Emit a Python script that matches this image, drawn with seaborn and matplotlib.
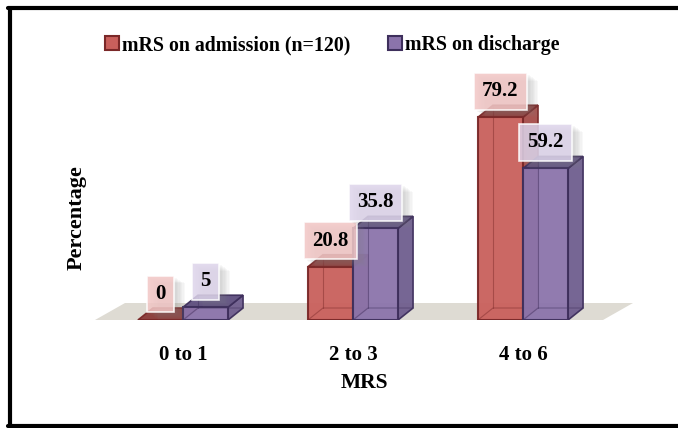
import matplotlib
matplotlib.use("Agg")
import matplotlib.pyplot as plt
import matplotlib.patheffects as pe
from matplotlib.patches import Polygon, Rectangle
from matplotlib.lines import Line2D
import seaborn as sns
import pandas as pd

# Data
categories = ["0 to 1", "2 to 3", "4 to 6"]
series_names = ["mRS on admission (n=120)", "mRS on discharge"]
admission = [0, 20.8, 79.2]
discharge = [5, 35.8, 59.2]

df = pd.DataFrame({
    "MRS": categories * 2,
    "Percentage": admission + discharge,
    "Group": [series_names[0]] * 3 + [series_names[1]] * 3,
})

# face colours: front, side, top, edge, label box
styles = {
    series_names[0]: dict(front="#C9605C", side="#A54C49", top="#8A3A38",
                          edge="#7A2828", box="#F1C6C5"),
    series_names[1]: dict(front="#8B74AB", side="#6F5E8E", top="#5E4E7E",
                          edge="#3E2F5C", box="#DDD4EA"),
}

sns.set_theme(style="white")
plt.rcParams["font.family"] = ["Liberation Serif", "DejaVu Serif"]
plt.rcParams["font.weight"] = "bold"
plt.rcParams["text.color"] = "black"
plt.rcParams["axes.labelcolor"] = "black"
plt.rcParams["xtick.color"] = "black"

W, H = 678, 428
fig = plt.figure(figsize=(W / 100, H / 100), dpi=100)
fig.patch.set_facecolor("white")

# axes box in pixels
left_px, right_px = 95, 633
base_px, top_px = 320, 90
ax = fig.add_axes([left_px / W, (H - base_px) / H,
                   (right_px - left_px) / W, (base_px - top_px) / H])

sns.barplot(data=df, x="MRS", y="Percentage", hue="Group",
            palette=[styles[s]["front"] for s in series_names],
            width=0.53, ax=ax, legend=False, saturation=1)

ax.set_xlim(-0.5176, 2.647)
ax.set_ylim(0, (base_px - top_px) / 2.56)

# depth offsets in data units
xpx = (right_px - left_px) / (ax.get_xlim()[1] - ax.get_xlim()[0])
ypx = (base_px - top_px) / (ax.get_ylim()[1] - ax.get_ylim()[0])
dx, dy = 15 / xpx, 12 / ypx

# floor
fdx, fdy = 30 / xpx, 17 / ypx
x0, x1 = ax.get_xlim()
floor = Polygon([(x0, 0), (x1 - fdx, 0), (x1, fdy), (x0 + fdx, fdy)],
                closed=True, fc="#DEDBD3", ec="none", zorder=0.5, clip_on=False)
ax.add_patch(floor)

soft_shadow = [pe.SimplePatchShadow(offset=(o, -o * 0.7), shadow_rgbFace="#888888", alpha=0.05)
               for o in (2, 3, 4, 5, 6, 7, 8)] + [pe.Normal()]

# turn flat bars into boxes
for container, name in zip(ax.containers, series_names):
    st = styles[name]
    for bar in container:
        bx, bw, bh = bar.get_x(), bar.get_width(), bar.get_height()
        z = 2 if name == series_names[0] else 3
        side = Polygon([(bx + bw, 0), (bx + bw + dx, dy), (bx + bw + dx, bh + dy), (bx + bw, bh)],
                       fc=st["side"], ec=st["edge"], lw=1.2, zorder=z, alpha=0.95)
        top = Polygon([(bx, bh), (bx + bw, bh), (bx + bw + dx, bh + dy), (bx + dx, bh + dy)],
                      fc=st["top"], ec=st["edge"], lw=1.2, zorder=z, alpha=0.95)
        ax.add_patch(side)
        ax.add_patch(top)
        bar.set_zorder(z + 0.1)
        bar.set_edgecolor(st["edge"])
        bar.set_linewidth(1.5)
        bar.set_alpha(0.95)
        # hidden edges seen through the glassy front face
        if bh > 0:
            ax.add_line(Line2D([bx + dx, bx + dx], [dy, bh + dy], color=st["edge"],
                               lw=0.8, alpha=0.45, zorder=z + 0.2))
            ax.add_line(Line2D([bx, bx + dx, bx + bw + dx], [0, dy, dy], color=st["edge"],
                               lw=0.8, alpha=0.45, zorder=z + 0.2))
        # value label
        t = ax.annotate(f"{bh:g}", (bx + bw / 2, bh), xytext=(0, 26),
                        textcoords="offset pixels", ha="center", va="center",
                        fontsize=15, fontweight="bold", color="black", zorder=10,
                        bbox=dict(boxstyle="square,pad=0.4", fc=st["box"], ec="white",
                                  lw=1.2, alpha=0.85))
        t.get_bbox_patch().set_path_effects(soft_shadow)

for s in ax.spines.values():
    s.set_visible(False)
ax.set_yticks([])
ax.tick_params(axis="x", length=0, pad=18)
for lab in ax.get_xticklabels():
    lab.set_fontsize(15)
    lab.set_fontweight("bold")
ax.set_xlabel("MRS", fontsize=15.5, fontweight="bold", labelpad=6)
ax.set_ylabel("Percentage", fontsize=16, fontweight="bold")
ax.yaxis.label.set(va="center", ha="center")
ax.yaxis.set_label_coords((77 - left_px) / (right_px - left_px),
                          (base_px - 218) / (base_px - top_px))
ax.patch.set_alpha(0)

# legend
handles = [Rectangle((0, 0), 1, 1, fc=styles[s]["front"], ec=styles[s]["edge"], lw=1.5)
           for s in series_names]
fig.legend(handles, series_names, loc="center", bbox_to_anchor=(332 / W, 1 - 45 / H),
           ncol=2, frameon=False, prop=dict(family="Liberation Serif", weight="bold", size=14.3),
           handlelength=0.7, handleheight=0.7, handletextpad=0.15, columnspacing=1.9)

# outer frame (left, top, bottom)
frame_kw = dict(color="black", lw=3, transform=fig.transFigure)
fig.add_artist(Line2D([9.5 / W, 9.5 / W], [1 - 8 / H, 1 - 426 / H], **frame_kw))
fig.add_artist(Line2D([8 / W, 1.0], [1 - 8 / H, 1 - 8 / H], **frame_kw))
fig.add_artist(Line2D([8 / W, 1.0], [1 - 426 / H, 1 - 426 / H], **frame_kw))

fig.savefig("out.png", dpi=100)
